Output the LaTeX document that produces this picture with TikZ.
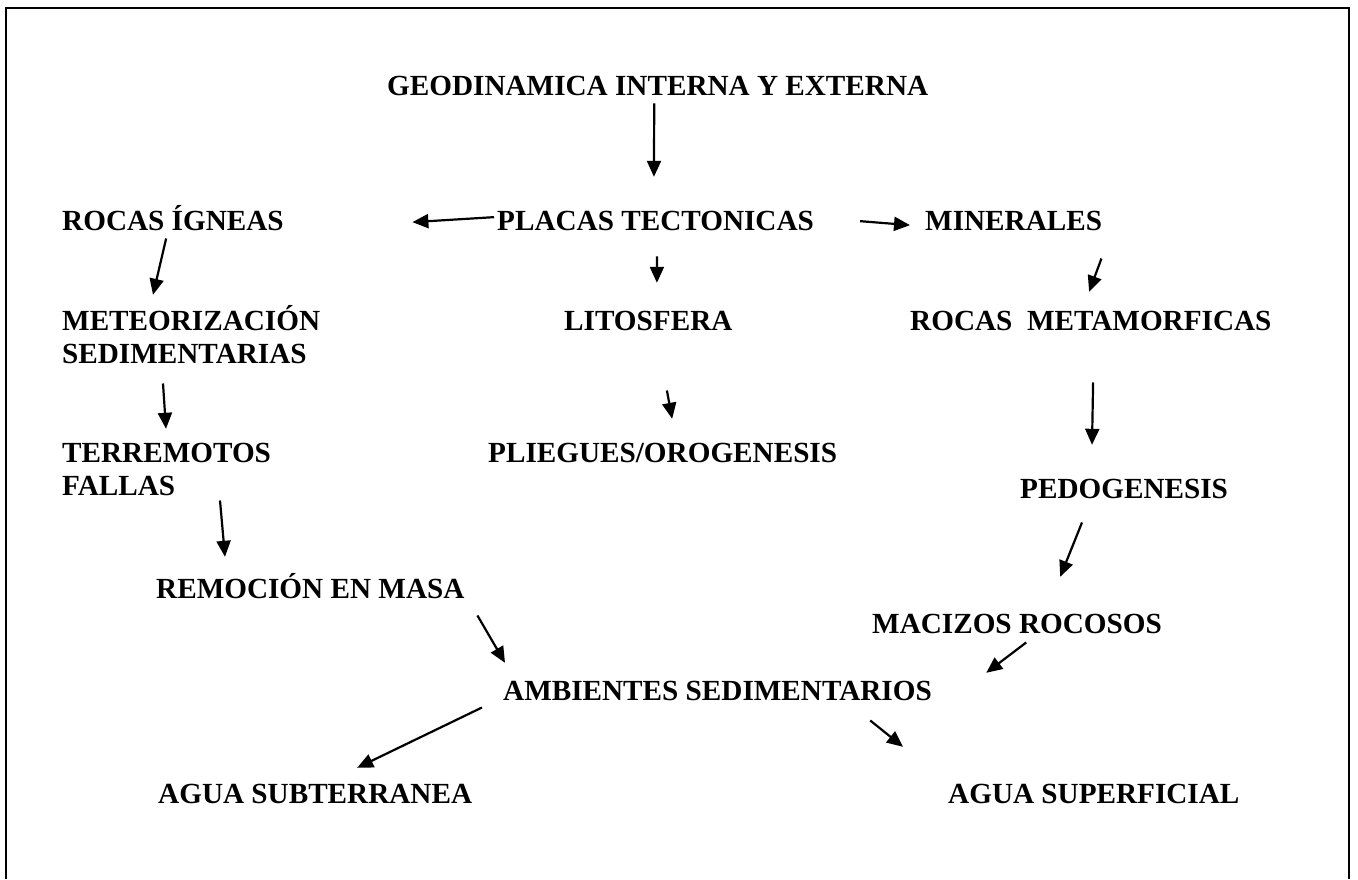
\documentclass[tikz,border=0pt]{standalone}
\usepackage{fontspec}
\setmainfont{Liberation Serif}
\usetikzlibrary{arrows.meta}

\begin{document}
\begin{tikzpicture}[x=1pt,y=-1pt,
  txt/.style={inner sep=0pt,anchor=base west,align=left,text height=20pt,
    font=\bfseries\fontsize{29.2}{33}\selectfont},
  arr/.style={line width=2.2pt,-{Triangle[length=16pt,width=14pt]}}]
\useasboundingbox (0,0) rectangle (1358,879);
%\draw[help lines,step=100] (0,0) grid (1358,879);
\draw[line width=2.2pt] (6,879) -- (6,8) -- (1349,8) -- (1349,879);
% textos
\node[txt] (geo) at (387,95) {GEODINAMICA INTERNA Y EXTERNA};
\node[txt] (ignea) at (62,230) {ROCAS ÍGNEAS};
\node[txt] (placas) at (497,230) {PLACAS TECTONICAS};
\node[txt] (minerales) at (925,230) {MINERALES};
\node[txt,text height=53pt] (meteor) at (62,363) {METEORIZACIÓN\\SEDIMENTARIAS};
\node[txt] (lito) at (564,330) {LITOSFERA};
\node[txt] (meta) at (910,330) {ROCAS~~METAMORFICAS};
\node[txt,text height=53pt] (terre) at (62,495) {TERREMOTOS\\FALLAS};
\node[txt] (plieg) at (488,462) {PLIEGUES/OROGENESIS};
\node[txt] (pedo) at (1020,498) {PEDOGENESIS};
\node[txt] (remo) at (156,598) {REMOCIÓN EN MASA};
\node[txt] (maci) at (872,633) {MACIZOS ROCOSOS};
\node[txt] (amb) at (503,700) {AMBIENTES SEDIMENTARIOS};
\node[txt] (subt) at (158,803) {AGUA SUBTERRANEA};
\node[txt] (sup) at (948,803) {AGUA SUPERFICIAL};
% flechas
\draw[arr] ([shift={(-3.5,8)}]geo.south) -- ([shift={(-1.6,-33)}]placas.north);
\draw[arr] ([shift={(-3,-3)}]placas.west) -- ([shift={(128.5,2)}]ignea.east);
\draw[arr] ([shift={(46,1)}]placas.east) -- ([shift={(-15,5)}]minerales.west);
\draw[arr] ([shift={(1.4,26)}]placas.south) -- ([shift={(8.6,-27)}]lito.north);
\draw[arr] ([shift={(-6.8,8)}]ignea.south) -- ([shift={(91,-15)}]meteor.north west);
\draw[arr] ([shift={(101,20)}]meteor.south west) -- ([shift={(104,-13)}]terre.north west);
\draw[arr] ([shift={(158,5)}]terre.south west) -- ([shift={(69,-21)}]remo.north west);
\draw[arr] ([shift={(12.8,17)}]remo.south east) -- ([shift={(2,-17)}]amb.north west);
\draw[arr] ([shift={(18.6,60)}]lito.south) -- ([shift={(9.5,-23)}]plieg.north);
\draw[arr] ([shift={(-0.8,28)}]minerales.south east) -- ([shift={(-1.7,-18)}]meta.north);
\draw[arr] ([shift={(2.3,52)}]meta.south) -- ([shift={(72,-33)}]pedo.north west);
\draw[arr] ([shift={(62,24)}]pedo.south west) -- ([shift={(43.2,-36)}]maci.north);
\draw[arr] ([shift={(9.2,9)}]maci.south) -- ([shift={(54.2,-7)}]amb.north east);
\draw[arr] ([shift={(-21,7)}]amb.south west) -- ([shift={(42,-15)}]subt.north);
\draw[arr] ([shift={(-61.8,20)}]amb.south east) -- ([shift={(-45,-36)}]sup.north west);
\end{tikzpicture}
\end{document}
